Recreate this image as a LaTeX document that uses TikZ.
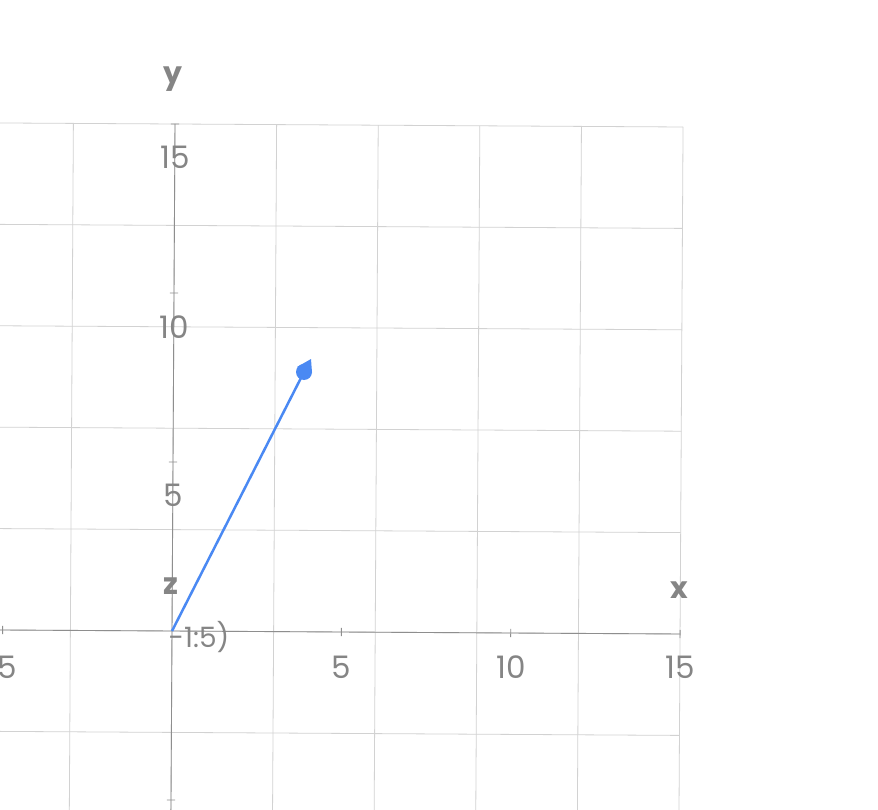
\documentclass[tikz,border=0pt]{standalone}
\usepackage{fontspec}
\setmainfont{Poppins}
\definecolor{gridc}{HTML}{D2D2D2}
\definecolor{axisc}{HTML}{8E8E8E}
\definecolor{labc}{HTML}{858585}
\definecolor{vecc}{HTML}{4A89F3}
\begin{document}
\begin{tikzpicture}[x=1pt,y=-1pt,
  gridline/.style={draw=gridc, line width=0.8pt},
  axisline/.style={draw=axisc, line width=0.9pt},
  tickmark/.style={draw=axisc, line width=0.9pt},
  ticklab/.style={text=labc, font=\fontsize{31}{31}\selectfont, inner sep=0pt},
  axislab/.style={text=labc, font=\bfseries\fontsize{30}{30}\selectfont, inner sep=0pt},
  vecline/.style={draw=vecc, line width=2.5pt}]
\useasboundingbox (0,0) rectangle (878,810);
\fill[white] (0,0) rectangle (878,810);
\clip (0,0) rectangle (878,810);
\begin{scope}[shift={(172,631)}, x={(33.87pt,-0.2pt)}, y={(0.2pt,33.8pt)}]
  \foreach \v in {-3,0,...,15} {
    \draw[gridline] (-6,\v) -- (15,\v);
    \draw[gridline] (\v,-6) -- (\v,15);
  }
  \draw[axisline] (-6,0) -- (15,0);
  \draw[axisline] (0,-6) -- (0,15);
  \foreach \v in {-5,5,10,15} {
    \draw[tickmark] (\v,-0.12) -- (\v,0.12);
    \draw[tickmark] (-0.12,\v) -- (0.12,\v);
  }
\end{scope}
% labels
\node[axislab] (ly) at (173,79) {y};
\node[axislab] (lx) at (679,590) {x};
\node[axislab] (lz) at (171,586) {z};
\node[ticklab] (y15) at (175,157) {15};
\node[ticklab] (y10) at (174,327) {10};
\node[ticklab] (y5) at (173,495) {5};
\node[ticklab] (x5) at (341,667) {5};
\node[ticklab] (x10) at (511,667) {10};
\node[ticklab] (x15) at (680,667) {15};
\node[ticklab, anchor=east] (xm5) at (17,667) {-5};
\node[ticklab, font=\fontsize{28}{28}\selectfont] (z0) at (199,637) {-1:5)};
% vector
\coordinate (o) at (172,631);
\coordinate (h) at (304,372);
\draw[vecline] (o) -- (h);
\fill[vecc] (h) circle (8);
\fill[vecc] (297,367) -- (311,359) -- (312,373) -- cycle;
\end{tikzpicture}
\end{document}
